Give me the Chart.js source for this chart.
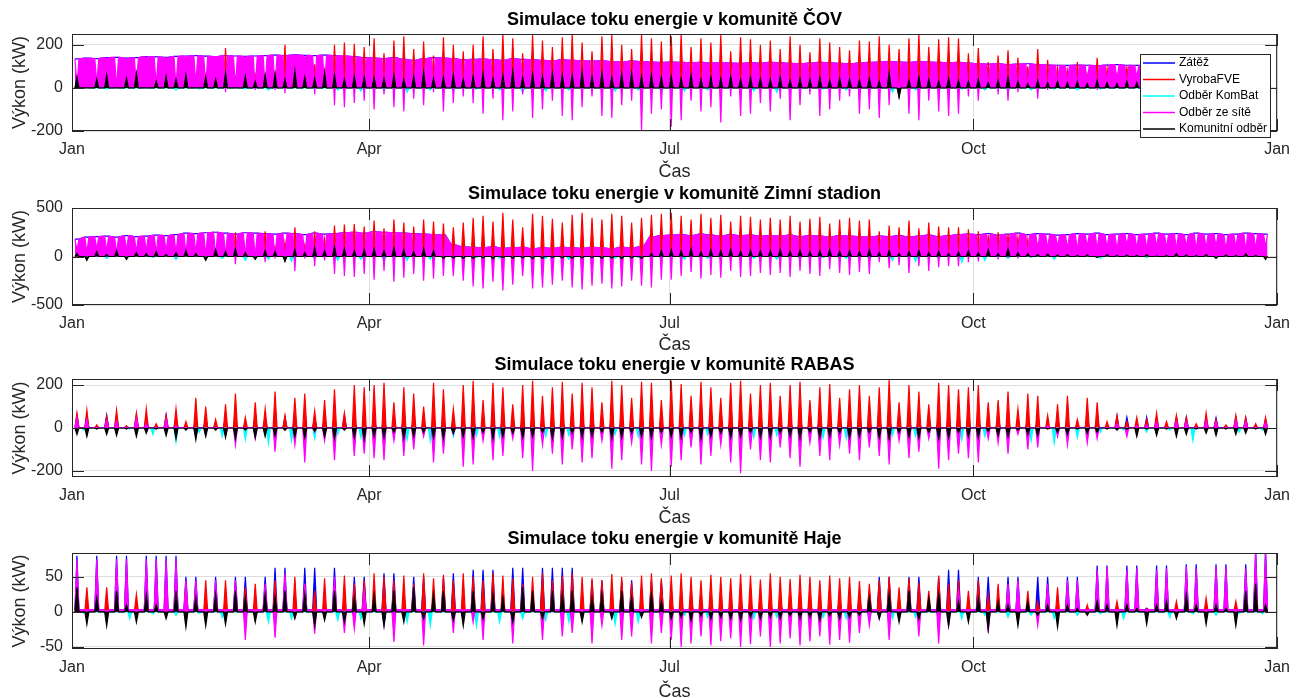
<!DOCTYPE html>
<html>
<head>
<meta charset="utf-8">
<script src="https://cdn.jsdelivr.net/npm/chart.js@4.4.1/dist/chart.umd.min.js"></script>
<style>
  html, body { margin: 0; padding: 0; background: #fff; width: 1299px; height: 698px; overflow: hidden; }
  canvas { position: absolute; left: 0; }
</style>
</head>
<body>
<canvas id="p1"></canvas>
<canvas id="p2"></canvas>
<canvas id="p3"></canvas>
<canvas id="p4"></canvas>
<script>
// one sample every 3 days (day = 1.5 + 3*i), values in kW
// cyan (KomBat) is sampled weekly (day = 3.5 + 7*j)

const tickDays = [0, 90, 181, 273, 365];
const tickNames = ["Jan", "Apr", "Jul", "Oct", "Jan"];
const seriesNames = ["Zátěž", "VyrobaFVE", "Odběr KomBat", "Odběr ze sítě", "Komunitní odběr"];
const seriesColors = ["#0000ff", "#ff0000", "#00ffff", "#ff00ff", "#000000"];

// ---- ČOV ----
const covLoad = [
  135,138,136,140,142,138,140,145,144,142,
  146,148,150,147,145,150,148,146,148,150,
  152,150,153,151,150,152,150,148,145,140,
  138,136,140,132,128,135,140,138,136,130,
  132,134,130,128,135,132,130,128,126,130,
  128,126,124,125,122,120,124,122,120,118,
  120,118,116,118,115,117,115,114,116,115,
  118,116,114,112,115,118,116,114,112,115,
  118,120,122,120,118,122,120,118,116,118,
  115,112,110,112,108,110,112,108,106,105,
  104,106,105,103,106,108,105,104,106,108,
  110,112,115,118,116,120,125,122,150,118,110];
const covFve = [
  30,15,40,10,35,5,20,45,10,25,
  30,50,20,60,40,185,50,30,60,45,
  70,200,90,60,110,80,200,210,205,190,
  230,160,220,240,180,215,150,235,200,170,
  200,240,180,250,230,160,245,220,190,235,
  250,210,170,240,245,200,180,250,230,215,
  240,250,190,230,210,245,170,235,225,200,
  220,180,240,200,165,230,210,190,175,220,
  215,240,200,180,230,250,190,225,235,230,
  160,185,120,150,175,140,100,180,130,90,
  80,120,60,140,90,55,100,45,70,30,
  40,25,15,30,20,35,10,25,15,20,5];
const covGrid = [
  10,130,20,135,0,130,0,140,10,135,
  0,140,20,0,145,-20,0,140,-10,0,
  -10,-25,150,140,-30,0,-80,-90,-70,-60,
  -100,-30,-90,-110,-50,-80,-20,-110,-70,-40,
  -70,-120,-50,-150,-110,-30,-140,-100,-60,-130,
  -150,-90,-40,-130,-140,-80,-60,-200,-120,-100,
  -180,-150,-60,-110,-90,-160,-40,-130,-120,-70,
  -110,-50,-150,-80,-30,-130,-100,-60,-40,-120,
  -100,-140,-80,-50,-120,-150,-60,-110,-130,-120,
  -40,-60,0,-30,-60,-20,0,-50,-10,10,
  20,0,30,-10,20,40,10,50,30,60,
  50,70,90,60,80,60,90,70,100,80,90];
const covComm = [
  50,0,40,60,0,45,70,0,30,55,
  40,60,0,50,40,70,0,55,30,60,
  65,40,80,50,45,70,60,40,55,50,
  50,45,60,40,55,75,45,50,60,40,
  55,70,45,60,80,50,65,55,70,60,
  60,75,55,70,50,65,70,55,60,50,
  55,45,60,40,50,45,55,40,50,45,
  40,50,35,45,40,50,35,45,40,35,
  45,30,70,-45,35,50,40,30,45,35,
  30,40,25,35,50,30,20,35,25,30,
  25,30,20,35,25,20,30,25,20,30,
  20,25,15,20,25,15,20,30,20,15,20];
const covBat = [0,-5,0,0,-10,-5,0,-5,-10,0,-5,-10,-15,-10,-20,-10,-15,-5,-10,-20,-15,-10,-5,-15,-10,-20,
  -15,-10,-5,-15,-20,-10,-5,-10,-15,-20,-10,-15,-5,-10,-15,-10,-5,-10,-5,0,-5,0,-5,0,0,-5];

// ---- Zimní stadion ----
const zsLoad = [
  180,200,205,210,200,215,205,210,220,215,
  225,240,235,245,250,240,230,245,240,235,
  230,240,235,225,240,230,235,245,250,240,
  255,250,245,240,235,230,225,220,120,100,
  95,90,100,85,90,95,80,90,85,95,
  90,85,95,90,80,95,90,100,200,215,
  220,225,215,230,220,210,225,215,220,210,
  215,210,220,205,215,210,200,215,210,205,
  200,210,205,215,200,210,220,205,215,225,
  230,225,235,220,230,240,225,235,230,220,
  225,235,230,240,225,230,235,225,230,240,
  230,235,225,240,230,235,225,230,240,235,230];
const zsFve = [
  20,40,10,30,50,15,35,25,45,30,
  40,60,30,50,70,45,250,55,60,260,
  100,150,300,120,260,180,320,330,335,310,
  370,290,380,350,310,380,360,340,300,350,
  400,420,360,450,380,300,440,420,390,350,
  430,450,400,380,440,420,350,400,430,440,
  450,420,380,440,400,430,360,420,410,380,
  400,380,420,360,390,410,340,380,400,370,
  380,260,320,300,370,290,350,310,300,300,
  280,260,220,250,230,200,180,120,100,80,
  60,80,40,50,30,60,20,40,30,50,
  20,30,10,25,15,20,10,25,15,20,10];
const zsGrid = [
  60,40,70,50,30,60,45,55,35,50,
  30,20,40,10,0,20,-80,10,0,-60,
  -20,-60,-150,-20,-100,-40,-180,-200,-210,-180,
  -240,-150,-260,-220,-180,-250,-230,-200,-200,-250,
  -310,-330,-260,-350,-290,-200,-330,-320,-290,-250,
  -320,-340,-300,-280,-330,-310,-250,-300,-320,-240,
  -240,-200,-160,-230,-190,-220,-150,-210,-200,-170,
  -190,-170,-210,-150,-180,-200,-130,-170,-190,-160,
  -180,-60,-120,-90,-170,-100,-150,-110,-100,-100,
  -60,-50,0,-30,-10,-20,10,60,80,100,
  80,60,100,70,90,60,110,80,70,90,
  90,70,100,60,80,100,70,90,60,80,100];
const zsComm = [
  30,-40,50,20,60,-30,40,30,50,20,
  40,60,30,-40,70,50,80,40,-30,60,
  50,-50,70,40,90,60,100,80,60,70,
  80,60,90,70,50,80,60,-20,-15,-20,
  -20,-15,-25,-10,-20,-15,-25,-20,-10,-15,
  -20,-15,-10,-20,-15,-25,-15,-20,30,60,
  70,60,80,50,70,60,75,55,65,60,
  60,70,55,65,50,60,70,55,60,50,
  70,40,60,30,50,60,40,55,30,45,
  60,40,70,30,80,40,30,20,25,15,
  20,10,15,-10,20,10,15,10,20,5,
  10,30,15,10,20,-20,15,10,30,10,-30];
const zsBat = [0,-20,0,-10,-30,0,-20,-40,-30,-50,-20,-40,-30,-60,-40,-30,-20,-10,-20,-10,-20,-30,-10,-20,-10,-20,
  -30,-20,-10,-20,-30,-20,-10,-20,-30,-40,-50,-20,-60,-40,-20,-10,-30,0,-20,0,-10,0,0,-10,0,0];

// ---- RABAS ----
const rabNight = 2;
const rabLoad = [
  60,60,8,60,60,8,60,55,8,60,
  50,8,48,48,8,50,50,8,48,48,
  8,50,50,8,50,55,8,60,55,8,
  50,50,8,55,50,8,50,50,8,50,
  50,8,55,50,8,50,50,8,50,55,
  8,50,50,8,55,50,8,50,50,8,
  50,50,8,55,50,8,50,50,8,50,
  50,8,50,50,8,55,50,8,50,55,
  8,50,55,8,55,50,8,50,55,8,
  50,55,8,55,50,8,50,55,8,50,
  50,8,55,55,8,55,50,8,50,50,
  8,50,50,8,50,48,8,50,48,8,40];
const rabFve = [
  70,85,15,55,85,10,70,90,20,60,
  90,30,140,100,40,110,160,50,120,90,
  170,60,140,160,80,130,180,70,200,190,
  200,210,120,190,160,100,210,180,90,200,
  220,130,210,190,110,200,220,150,190,215,
  160,210,190,120,220,200,140,215,210,130,
  220,205,150,215,190,140,210,220,160,200,
  210,150,200,215,130,190,205,140,180,200,
  150,190,225,120,200,170,110,210,200,180,
  190,200,120,130,170,90,160,150,60,110,
  150,40,140,120,30,60,30,50,40,70,
  30,60,50,20,70,40,15,60,50,20,50];
const rabGrid = [
  45,40,0,35,30,0,45,20,0,40,
  10,0,-40,-20,0,-30,-80,0,-50,-20,
  -110,-10,-80,-160,-20,-60,-150,0,-130,-120,
  -140,-150,-60,-130,-100,-40,-160,-120,-30,-180,
  -170,-60,-150,-130,-50,-140,-200,-80,-120,-170,
  -100,-160,-140,-60,-190,-150,-70,-170,-200,-80,
  -180,-150,-90,-170,-130,-80,-160,-210,-100,-150,
  -160,-90,-140,-180,-70,-130,-150,-80,-120,-150,
  -90,-130,-170,-60,-140,-110,-50,-190,-150,-120,
  -140,-160,-50,-70,-120,-30,-100,-90,10,-40,
  -80,0,-70,-50,0,20,-40,10,15,25,
  0,30,30,0,35,30,0,35,30,0,25];
const rabComm = [
  -30,-40,-5,-30,-35,-5,-40,-25,-5,-35,
  -50,-10,-55,-40,-10,-45,-50,-10,-45,-40,
  -35,-10,-40,-45,-15,-40,-50,-10,-45,-55,
  -40,-45,-20,-50,-40,-20,-45,-50,-25,-40,
  -45,-20,-50,-40,-25,-45,-40,-20,-50,-45,
  -25,-45,-40,-20,-50,-45,-25,-40,-45,-20,
  -40,-45,-20,-50,-40,-25,-45,-40,-20,-45,
  -45,-25,-40,-50,-20,-45,-40,-25,-45,-40,
  -20,-45,-50,-20,-40,-45,-20,-50,-45,-20,
  -40,-45,-15,-35,-40,-10,-30,-35,-5,-20,
  -30,-5,-25,-20,-5,-10,-5,-40,-5,-35,
  -5,-40,-30,-5,-25,-35,-5,-30,-25,-5,-30];
const rabBat = [-10,-20,-5,-30,-65,-20,-40,-55,-70,-60,-50,-30,-45,-40,-55,-60,-40,-35,-45,-30,-40,-35,-45,-30,-40,-50,
  -35,-30,-40,-45,-35,-40,-45,-50,-30,-35,-40,-60,-55,-40,-45,-60,-70,-45,-20,-10,-20,-10,-60,-10,-20,-10];

// ---- Haje ----
const hajNight = 3;
const hajLoad = [
  80,5,80,5,80,80,5,80,80,80,
  80,50,50,5,50,5,50,50,5,50,
  63,63,5,63,63,5,63,5,50,50,
  5,55,55,5,50,50,5,50,55,5,
  60,60,60,5,63,63,5,63,63,63,
  63,5,45,45,5,45,45,5,45,45,
  15,12,15,10,15,12,10,15,12,10,
  12,15,10,12,15,10,12,15,10,20,
  30,50,50,5,50,50,5,50,60,60,
  5,50,50,5,50,50,5,50,50,5,
  50,50,5,66,66,5,66,66,5,66,
  66,5,68,68,5,68,68,5,68,90,90];
const hajFve = [
  10,35,15,35,10,20,25,15,10,30,
  20,40,15,45,30,45,20,35,40,30,
  45,35,50,40,30,48,35,52,40,45,
  55,50,45,52,40,55,48,53,45,55,
  50,45,55,52,48,40,50,55,45,52,
  55,50,48,45,54,50,42,52,55,48,
  52,55,50,45,53,50,48,54,52,46,
  55,50,47,53,50,45,52,48,50,44,
  40,45,50,35,48,42,30,52,40,45,
  30,45,25,40,35,20,30,15,25,35,
  20,15,10,25,5,15,20,10,5,15,
  10,15,5,10,20,5,10,15,5,10,15];
const hajGrid = [
  75,3,75,0,75,75,3,75,75,75,
  75,45,45,3,45,3,45,-40,3,40,
  -37,55,3,40,-31,3,50,-30,-25,30,
  3,-20,-43,3,30,-48,3,20,-30,3,
  -15,-40,20,3,-45,30,3,-40,25,-35,
  -30,3,-45,-20,3,-40,-35,3,-45,-30,
  -40,-50,-45,-35,-48,-42,-38,-50,-46,-35,
  -50,-45,-38,-48,-42,-35,-47,-40,-44,-30,
  -20,-10,-40,3,20,-35,3,-45,-20,30,
  3,20,-30,3,40,45,3,-20,40,3,
  45,45,3,60,65,3,60,62,3,60,
  62,3,65,62,3,65,64,3,62,84,84];
const hajComm = [
  35,-18,20,-20,30,10,-15,25,10,-10,
  30,-22,20,-20,25,-18,30,20,-15,25,
  20,30,-10,25,-20,-12,30,-15,20,-18,
  25,-20,30,-15,35,-10,25,30,-12,-20,
  30,-10,25,20,-15,35,30,-10,30,25,
  30,-15,20,25,-10,30,20,-8,25,15,
  -10,-8,-12,-6,-10,-8,-10,-12,-8,-10,
  -8,-10,-6,-10,-8,-12,-6,-10,-8,-5,
  20,-10,25,-15,30,-10,20,25,-20,15,
  -15,20,-25,15,10,-20,15,-5,10,-22,
  10,5,-5,15,10,-20,10,5,-18,10,
  15,-10,25,10,-18,10,5,-20,30,40,10];
const hajBat = [-2,-5,-10,-3,-5,-2,-8,-12,-15,-10,-15,-12,-10,-18,-15,-20,-15,-20,-15,-10,-12,-15,-10,-18,-15,-10,
  -5,-8,-5,-10,-8,-5,-8,-10,-15,-10,-8,-12,-10,-5,-8,-5,-10,-5,-3,-10,-5,-8,-3,-5,-2,-3];

const FONT = '"Liberation Sans", Arial, Helvetica, sans-serif';
const HALF = 0.6;

// each sample becomes a narrow spike from the base level to its value
function spikes(vals, base, step, start) {
  const pts = [];
  vals.forEach((v, i) => {
    const c = start + i * step;
    const b = Array.isArray(base) ? base[i] : base;
    pts.push({ x: c - HALF, y: b }, { x: c, y: v }, { x: c + HALF, y: b });
  });
  return pts;
}

const framePlugin = {
  id: "frame",
  afterDraw(chart, args, opts) {
    const { ctx, chartArea: a, scales } = chart;
    ctx.save();
    ctx.strokeStyle = "#262626";
    ctx.lineWidth = 1;
    ctx.strokeRect(a.left + 0.5, a.top + 0.5, a.width - 1, a.height - 1);
    ctx.beginPath();
    tickDays.forEach(d => {
      const x = Math.round(scales.x.getPixelForValue(d)) + 0.5;
      ctx.moveTo(x, a.bottom); ctx.lineTo(x, a.bottom - 12);
      ctx.moveTo(x, a.top); ctx.lineTo(x, a.top + 12);
    });
    opts.yTicks.forEach(v => {
      const y = Math.round(scales.y.getPixelForValue(v)) + 0.5;
      ctx.moveTo(a.left, y); ctx.lineTo(a.left + 12, y);
      ctx.moveTo(a.right, y); ctx.lineTo(a.right - 12, y);
    });
    ctx.stroke();

    ctx.fillStyle = "#000";
    ctx.font = "bold 18px " + FONT;
    ctx.textAlign = "center";
    ctx.textBaseline = "middle";
    ctx.fillText(opts.title, (a.left + a.right) / 2, a.top - 14);

    if (opts.legend) {
      const bx = 1140, by = 54, bw = 130, bh = 83;
      ctx.fillStyle = "#fff";
      ctx.fillRect(bx, by, bw, bh);
      ctx.strokeStyle = "#262626";
      ctx.strokeRect(bx + 0.5, by + 0.5, bw, bh);
      ctx.font = "12px " + FONT;
      ctx.textAlign = "left";
      seriesNames.forEach((name, i) => {
        const y = by + 9 + i * 16.5;
        ctx.strokeStyle = seriesColors[i];
        ctx.lineWidth = 1.5;
        ctx.beginPath();
        ctx.moveTo(bx + 3, y); ctx.lineTo(bx + 35, y);
        ctx.stroke();
        ctx.fillStyle = "#000";
        ctx.fillText(name, bx + 39, y);
      });
    }
    ctx.restore();
  }
};

const panels = [
  { id: "p1", top: 0, height: 183, padTop: 34, xh: 52, min: -200, max: 250, yTicks: [-200, 0, 200],
    title: "Simulace toku energie v komunitě ČOV", legend: true,
    load: covLoad, fve: covFve, grid: covGrid, comm: covComm, bat: covBat, night: null },
  { id: "p2", top: 183, height: 173, padTop: 25, xh: 51, min: -500, max: 500, yTicks: [-500, 0, 500],
    title: "Simulace toku energie v komunitě Zimní stadion", legend: false,
    load: zsLoad, fve: zsFve, grid: zsGrid, comm: zsComm, bat: zsBat, night: null },
  { id: "p3", top: 356, height: 173, padTop: 23, xh: 52, min: -228, max: 228, yTicks: [-200, 0, 200],
    title: "Simulace toku energie v komunitě RABAS", legend: false,
    load: rabLoad, fve: rabFve, grid: rabGrid, comm: rabComm, bat: rabBat, night: rabNight },
  { id: "p4", top: 529, height: 174, padTop: 24, xh: 54, min: -53, max: 84, yTicks: [-50, 0, 50],
    title: "Simulace toku energie v komunitě Haje", legend: false,
    load: hajLoad, fve: hajFve, grid: hajGrid, comm: hajComm, bat: hajBat, night: hajNight }
];

function line(label, color, data, order, fill) {
  return { label, data, borderColor: color, backgroundColor: color, borderWidth: 1.2,
    pointRadius: 0, fill: fill ? "origin" : false, tension: 0, order };
}

panels.forEach(p => {
  const el = document.getElementById(p.id);
  el.style.top = p.top + "px";
  el.width = 1299;
  el.height = p.height;

  const flatLoad = p.night === null;
  const base = flatLoad ? p.load : p.night;
  const datasets = [
    line(seriesNames[0], seriesColors[0], spikes(p.load, base, 3, 1.5), 4, !flatLoad),
    line(seriesNames[1], seriesColors[1], spikes(p.fve, 0, 3, 1.5), 3, true),
    line(seriesNames[2], seriesColors[2], spikes(p.bat, 0, 7, 3.5), 2, true),
    line(seriesNames[3], seriesColors[3], spikes(p.grid, base, 3, 1.5), 1, true),
    line(seriesNames[4], seriesColors[4], spikes(p.comm, 0, 3, 1.5), 0, true)
  ];

  new Chart(el, {
    type: "line",
    data: { datasets },
    options: {
      responsive: false,
      animation: false,
      devicePixelRatio: 1,
      events: [],
      parsing: false,
      layout: { padding: { top: p.padTop, right: 15, left: 0, bottom: 0 } },
      plugins: {
        legend: { display: false },
        tooltip: { enabled: false },
        frame: { title: p.title, yTicks: p.yTicks, legend: p.legend }
      },
      scales: {
        x: {
          type: "linear", min: 0, max: 365,
          afterFit: s => { s.height = p.xh; },
          afterBuildTicks: s => { s.ticks = tickDays.map(v => ({ value: v })); },
          ticks: {
            autoSkip: false, maxRotation: 0, padding: 9, color: "#262626",
            font: { family: FONT, size: 16 },
            callback: v => tickNames[tickDays.indexOf(v)]
          },
          grid: { color: "#dedede", drawTicks: false },
          border: { display: false },
          title: { display: true, text: "Čas", color: "#262626", font: { family: FONT, size: 18 }, padding: { top: 0, bottom: 0 } }
        },
        y: {
          min: p.min, max: p.max,
          afterFit: s => { s.width = 72; },
          afterBuildTicks: s => { s.ticks = p.yTicks.map(v => ({ value: v })); },
          ticks: { padding: 9, color: "#262626", font: { family: FONT, size: 16 } },
          grid: { color: "#dedede", drawTicks: false },
          border: { display: false },
          title: { display: true, text: "Výkon (kW)", color: "#262626", font: { family: FONT, size: 18 }, padding: { top: 9, bottom: 0 } }
        }
      }
    },
    plugins: [framePlugin]
  });
});
</script>
</body>
</html>
